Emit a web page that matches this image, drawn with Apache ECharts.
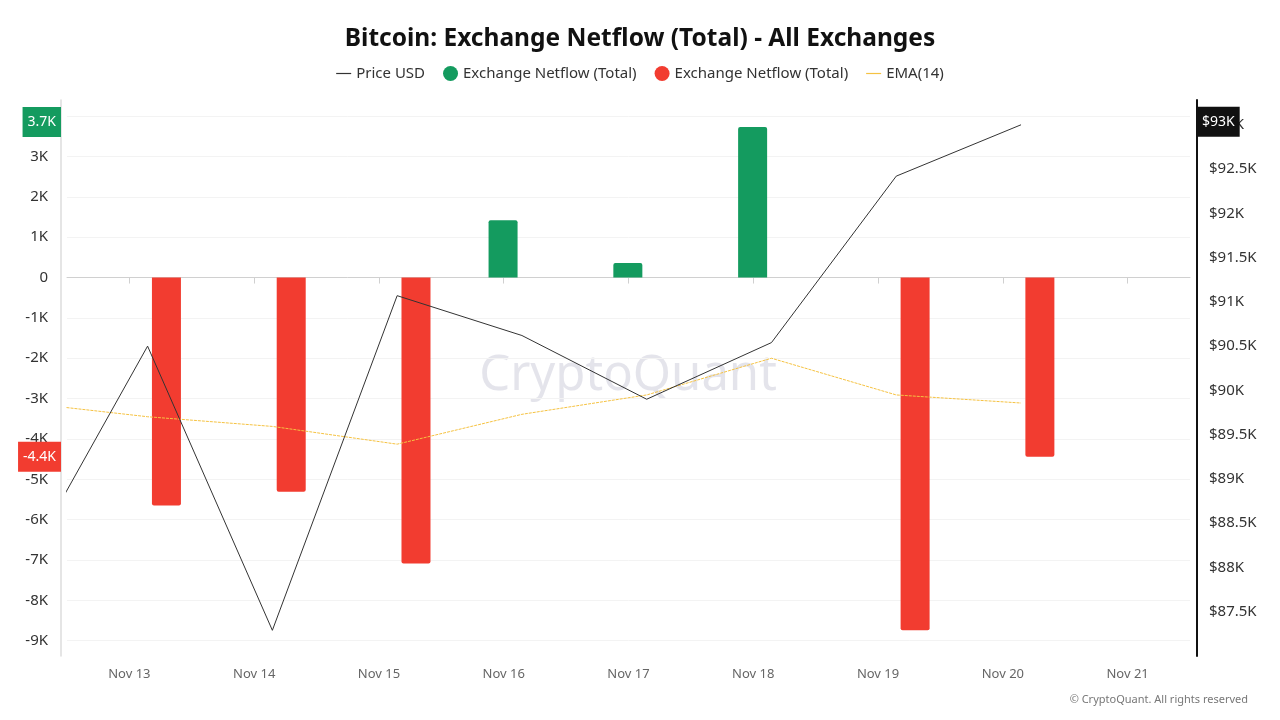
<!DOCTYPE html>
<html>
<head>
<meta charset="utf-8">
<title>Bitcoin: Exchange Netflow (Total) - All Exchanges</title>
<script src="https://cdn.jsdelivr.net/npm/echarts@6/dist/echarts.min.js"></script>
<style>
  html, body { margin: 0; padding: 0; background: #fff; }
  #chart { width: 1280px; height: 720px; }
</style>
</head>
<body>
<div id="chart"></div>
<script>
// daily points (local time), Nov 12 point sits left of the visible window
const dates = [
  '2024-11-12 03:30', '2024-11-13 03:30', '2024-11-14 03:30',
  '2024-11-15 03:30', '2024-11-16 03:30', '2024-11-17 03:30',
  '2024-11-18 03:30', '2024-11-19 03:30', '2024-11-20 03:30'
];
const priceUsd = [87980, 90500, 87290, 91070, 90620, 89900, 90540, 92420, 93000];
const netflowIn = ['-', '-', '-', '-', 1420, 360, 3730, '-', '-'];
const netflowOut = ['-', -5650, -5310, -7090, '-', '-', '-', -8740, -4440];
const ema14 = [-3100, -3450, -3690, -4130, -3390, -2910, -2000, -2910, -3110];
const months = ['Jan', 'Feb', 'Mar', 'Apr', 'May', 'Jun', 'Jul', 'Aug', 'Sep', 'Oct', 'Nov', 'Dec'];

const font = "'Noto Sans', 'Open Sans', sans-serif";
const GREEN = '#149b5f';
const RED = '#f23c30';

const GRID = { left: 67, right: 90, top: 100, bottom: 64 };
const BAR_W = 29;
const BAR_GAP = 0.3;

// visible window: Nov 12 12:00 -> Nov 21 12:00
const viewStart = new Date(2024, 10, 12, 12).getTime();
const viewEnd = new Date(2024, 10, 21, 12).getTime();
// echarts widens a time axis by half a bar group on each side to fit the bars,
// so shrink the requested extent to keep the visible window as above
const plotW = 1280 - GRID.left - GRID.right;
const halfGroup = (BAR_W * 2 + BAR_W * BAR_GAP) / 2;
const pad = (viewEnd - viewStart) * halfGroup / plotW;
const axisMin = viewStart + pad;
const axisMax = viewEnd - pad;

function pairs(values) {
  return dates.map((d, i) => [d, values[i]]);
}
function lastValue(values) {
  const v = values.filter(x => x !== '-');
  return v[v.length - 1];
}
// coloured value tag sitting on an axis
function axisTag(value, text, bg, side, dy) {
  return {
    silent: true,
    symbol: 'none',
    animation: false,
    lineStyle: { color: 'rgba(0,0,0,0)', width: 1, opacity: 1 },
    emphasis: { disabled: true },
    label: {
      show: true,
      position: side,
      distance: side === 'start' ? 6 : 7,
      offset: [0, dy || 0],
      formatter: text,
      color: '#fff',
      opacity: 1,
      backgroundColor: bg,
      fontFamily: font,
      fontSize: 14,
      lineHeight: 16,
      padding: [7, 5, 7, 5]
    },
    data: [{ yAxis: value }]
  };
}

const kFmt = v => (v / 1000).toFixed(1) + 'K';

const chart = echarts.init(document.getElementById('chart'));
chart.setOption({
  animation: false,
  backgroundColor: '#fff',
  textStyle: { fontFamily: font },
  title: {
    text: 'Bitcoin: Exchange Netflow (Total) - All Exchanges',
    left: 'center',
    top: 22,
    textStyle: { fontSize: 24.5, fontWeight: 'bold', color: '#111', fontFamily: font }
  },
  legend: {
    top: 61,
    left: 'center',
    itemWidth: 15,
    itemHeight: 15,
    itemGap: 18,
    textStyle: { fontSize: 15, color: '#333', fontFamily: font },
    formatter: name => name.startsWith('Exchange Netflow') ? 'Exchange Netflow (Total)' : name,
    data: [
      { name: 'Price USD', icon: 'path://M0,0H20V1.6H0Z', itemStyle: { color: '#333', borderWidth: 0 } },
      { name: 'Exchange Netflow (Total) in', icon: 'circle', itemStyle: { color: GREEN, borderWidth: 0 } },
      { name: 'Exchange Netflow (Total) out', icon: 'circle', itemStyle: { color: RED, borderWidth: 0 } },
      { name: 'EMA(14)', icon: 'path://M0,0H20V1.6H0Z', itemStyle: { color: '#f5c242', borderWidth: 0 } }
    ]
  },
  grid: Object.assign({ outerBoundsMode: 'none' }, GRID),
  xAxis: {
    type: 'time',
    min: axisMin,
    max: axisMax,
    splitNumber: 9,
    minInterval: 86400000,
    maxInterval: 86400000,
    axisLine: { lineStyle: { color: '#d0d0d0' } },
    axisTick: { show: true, length: 6, lineStyle: { color: '#d0d0d0' } },
    splitLine: { show: false },
    axisLabel: {
      color: '#666',
      fontSize: 13,
      margin: 12,
      fontFamily: font,
      formatter: v => {
        const d = new Date(v);
        return months[d.getMonth()] + ' ' + d.getDate();
      }
    }
  },
  yAxis: [
    {
      type: 'value',
      position: 'left',
      offset: 6,
      min: -9380,
      max: 4400,
      splitNumber: 14,
      axisLine: { show: true, lineStyle: { color: '#dcdcdc', width: 1.5 } },
      axisTick: { show: false },
      axisLabel: {
        color: '#333',
        fontSize: 15,
        margin: 13,
        fontFamily: font,
        showMinLabel: false,
        showMaxLabel: false,
        formatter: v => v === 0 ? '0' : (v / 1000) + 'K'
      },
      splitLine: { show: true, showMinLine: false, showMaxLine: false, lineStyle: { color: '#f3f3f3' } }
    },
    {
      type: 'value',
      position: 'right',
      offset: 7,
      min: 87000,
      max: 93280,
      interval: 500,
      axisLine: { show: true, lineStyle: { color: '#111', width: 2 } },
      axisTick: { show: false },
      axisLabel: {
        color: '#333',
        fontSize: 15,
        margin: 12,
        fontFamily: font,
        showMinLabel: false,
        showMaxLabel: false,
        formatter: v => '$' + (v / 1000) + 'K'
      },
      splitLine: { show: false }
    }
  ],
  graphic: [
    {
      type: 'text',
      x: 628,
      y: 376,
      z: 0,
      silent: true,
      style: {
        text: 'CryptoQuant',
        fontSize: 49,
        fontFamily: font,
        fill: 'rgba(205, 205, 218, 0.55)',
        align: 'center',
        verticalAlign: 'middle'
      }
    },
    {
      type: 'text',
      right: 32,
      bottom: 15,
      silent: true,
      style: {
        text: '\u00a9 CryptoQuant. All rights reserved',
        fontSize: 11,
        fontFamily: font,
        fill: '#777'
      }
    }
  ],
  series: [
    {
      name: 'Exchange Netflow (Total) in',
      type: 'bar',
      yAxisIndex: 0,
      barWidth: BAR_W,
      itemStyle: { color: GREEN, borderRadius: [2, 2, 0, 0] },
      data: pairs(netflowIn),
      markLine: axisTag(lastValue(netflowIn), kFmt(lastValue(netflowIn)), GREEN, 'start', -5)
    },
    {
      name: 'Exchange Netflow (Total) out',
      type: 'bar',
      yAxisIndex: 0,
      barWidth: BAR_W,
      barGap: (BAR_GAP * 100) + '%',
      itemStyle: { color: RED, borderRadius: [0, 0, 2, 2] },
      data: pairs(netflowOut),
      markLine: axisTag(lastValue(netflowOut), kFmt(lastValue(netflowOut)), RED, 'start', 0)
    },
    {
      name: 'Price USD',
      type: 'line',
      yAxisIndex: 1,
      symbol: 'none',
      z: 4,
      lineStyle: { color: '#333', width: 1 },
      itemStyle: { color: '#333' },
      data: pairs(priceUsd),
      markLine: axisTag(lastValue(priceUsd), '$' + Math.round(lastValue(priceUsd) / 1000) + 'K', '#111', 'end', -3)
    },
    {
      name: 'EMA(14)',
      type: 'line',
      yAxisIndex: 0,
      symbol: 'none',
      z: 3,
      lineStyle: { color: '#f5c242', width: 1, type: [3, 1] },
      itemStyle: { color: '#f5c242' },
      data: pairs(ema14)
    }
  ]
});
</script>
</body>
</html>
